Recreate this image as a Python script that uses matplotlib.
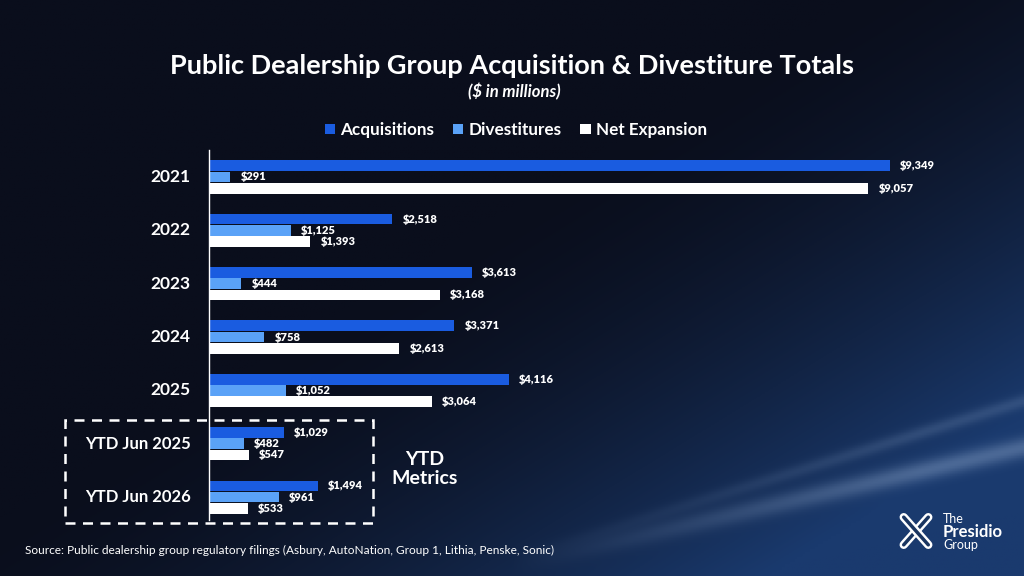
import numpy as np
import matplotlib.pyplot as plt
from matplotlib.patches import Rectangle

# data ($ in millions)
categories = ["2021", "2022", "2023", "2024", "2025", "YTD Jun 2025", "YTD Jun 2026"]
acquisitions = [9349, 2518, 3613, 3371, 4116, 1029, 1494]
divestitures = [291, 1125, 444, 758, 1052, 482, 961]
net_expansion = [9057, 1393, 3168, 2613, 3064, 547, 533]

series_names = ["Acquisitions", "Divestitures", "Net Expansion"]
colors = ["#1a5ce0", "#5aa2f7", "#ffffff"]

plt.rcParams['font.family'] = ['Lato', 'DejaVu Sans']

W, H = 1024, 576
fig = plt.figure(figsize=(W / 100, H / 100), dpi=100)

# background: dark navy with a brighter blue glow at the lower right
bg = fig.add_axes([0, 0, 1, 1])
gx, gy = np.meshgrid(np.linspace(0, 1, 400), np.linspace(0, 1, 225))
glow = np.clip(1.2 * gx + 1.1 * gy - 1.0, 0, 1) ** 1.6
fade = np.clip((gx - 0.5) / 0.4, 0, 1)
streak1 = np.exp(-((gy - (0.91 - 0.41 * (gx - 0.68))) / 0.018) ** 2) * fade
streak2 = np.exp(-((gy - (0.83 - 0.55 * (gx - 0.76))) / 0.012) ** 2) * fade
dark = np.array([10, 14, 28]) / 255
blue = np.array([26, 58, 110]) / 255
light = np.array([150, 175, 210]) / 255
img = dark[None, None, :] * (1 - glow[..., None]) + blue[None, None, :] * glow[..., None]
img = img + (light - img) * (0.4 * streak1[..., None] + 0.2 * streak2[..., None])
bg.imshow(np.clip(img, 0, 1), extent=[0, 1, 0, 1], aspect='auto', origin='upper')
bg.set_xlim(0, 1)
bg.set_ylim(0, 1)
bg.axis('off')

# main axes
left, right, top, bottom = 209, 937, 150, 520
ax = fig.add_axes([left / W, 1 - bottom / H, (right - left) / W, (bottom - top) / H])
ax.patch.set_alpha(0)

y = np.arange(len(categories))
bh = 0.2
offsets = [-0.21, 0.0, 0.21]
for vals, off, col, name in zip([acquisitions, divestitures, net_expansion], offsets, colors, series_names):
    ax.barh(y + off, vals, height=bh, color=col, label=name)
    for yi, v in zip(y, vals):
        ax.text(v + 140, yi + off, f"${v:,}", color="white", fontsize=8,
                fontweight="heavy", va="center", ha="left")

ax.set_xlim(0, 10000)
ax.set_ylim(6.43, -0.506)
ax.set_xticks([])
ax.set_yticks([])
for s in ["top", "right", "bottom"]:
    ax.spines[s].set_visible(False)
ax.spines["left"].set_color("white")
ax.spines["left"].set_linewidth(1)

for yi, cat in zip(y, categories):
    ax.text(-250, yi, cat, color="white", fontsize=12.5 if yi < 5 else 12,
            fontweight="bold", ha="right", va="center")

# dashed box around YTD metrics
box = Rectangle((65 / W, 1 - 523 / H), (373 - 65) / W, (523 - 420) / H,
                transform=fig.transFigure, fill=False, edgecolor="white",
                linewidth=1.8, linestyle=(0, (4, 3)))
fig.add_artist(box)
fig.text(425 / W, 1 - 469 / H, "YTD\nMetrics", color="white", fontsize=14,
         fontweight="bold", ha="center", va="center", linespacing=1.1)

# titles
fig.text(512 / W, 1 - 66 / H, "Public Dealership Group Acquisition & Divestiture Totals",
         color="white", fontsize=19.5, fontweight="bold", ha="center", va="center")
fig.text(514 / W, 1 - 92 / H, "($ in millions)", color="white", fontsize=12,
         fontweight="bold", fontstyle="italic", ha="center", va="center")

# legend
leg = fig.legend(loc="center", bbox_to_anchor=(516 / W, 1 - 130 / H), ncol=3,
                 frameon=False, fontsize=12.3, handlelength=0.6, handleheight=0.6,
                 handletextpad=0.3, columnspacing=1.1)
for t in leg.get_texts():
    t.set_color("white")
    t.set_fontweight("bold")

# source
fig.text(25 / W, 1 - 550 / H,
         "Source: Public dealership group regulatory filings (Asbury, AutoNation, Group 1, Lithia, Penske, Sonic)",
         color="white", fontsize=8.6, ha="left", va="center")

# logo
lx, ly = 916 / W, 1 - 531 / H
for dx, dy in [(1, 1), (1, -1)]:
    seg = ([lx - 0.012 * dx, lx + 0.012 * dx], [ly - 0.024 * dy, ly + 0.024 * dy])
    fig.add_artist(plt.Line2D(*seg, transform=fig.transFigure, color="white",
                              linewidth=6, solid_capstyle="round"))
    fig.add_artist(plt.Line2D(*seg, transform=fig.transFigure, color="#1a3560",
                              linewidth=2.5, solid_capstyle="round"))
fig.text(943 / W, 1 - 519 / H, "The", color="white", fontsize=9, ha="left", va="center")
fig.text(943 / W, 1 - 532 / H, "Presidio", color="white", fontsize=12,
         fontweight="bold", ha="left", va="center")
fig.text(943 / W, 1 - 545 / H, "Group", color="white", fontsize=9, ha="left", va="center")

fig.savefig("out.png", dpi=100)
